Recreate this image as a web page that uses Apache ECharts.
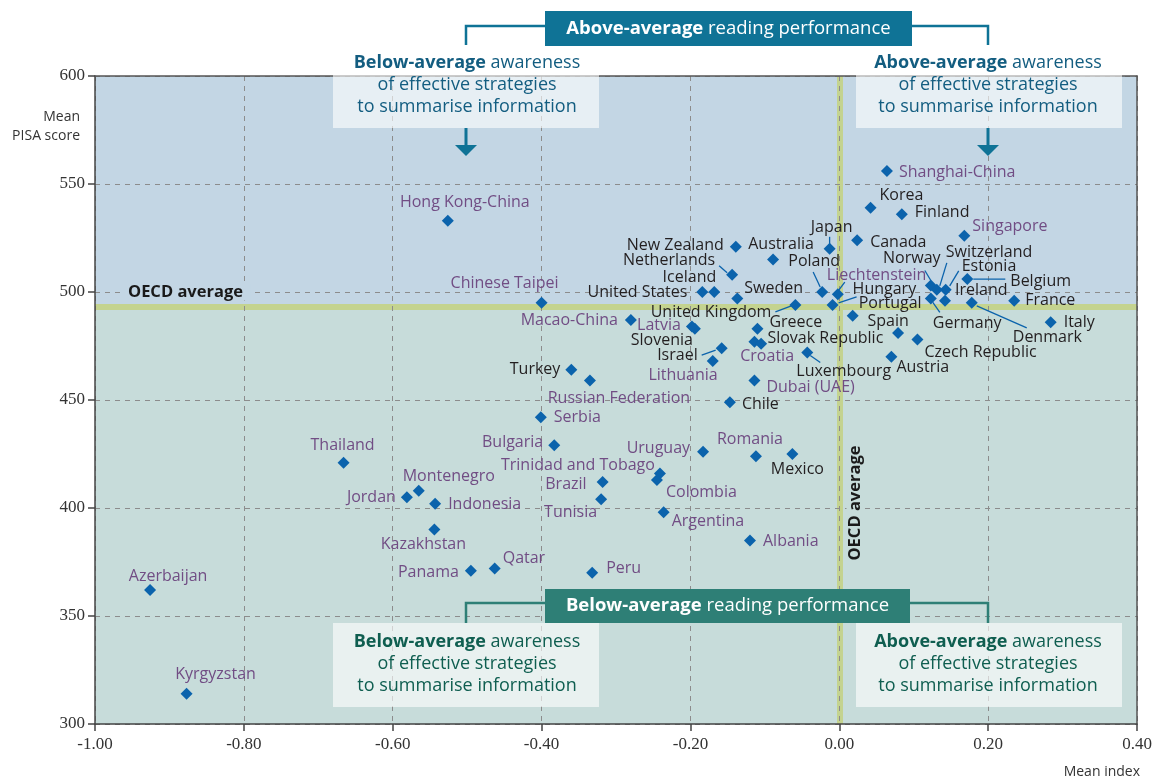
<!DOCTYPE html>
<html>
<head>
<meta charset="utf-8">
<title>Reading performance and awareness of summarising strategies</title>
<script src="https://cdn.jsdelivr.net/npm/echarts@6/dist/echarts.min.js"></script>
<style>
  html, body { margin: 0; padding: 0; background: #fff; }
  #myChart { width: 1157px; height: 780px; }
</style>
</head>
<body>
<div id="myChart"></div>
<script>
// OECD countries
var oecdNames = ['Korea', 'Finland', 'Canada', 'New Zealand', 'Japan', 'Australia', 'Netherlands', 'Belgium',
  'Norway', 'Estonia', 'Switzerland', 'Poland', 'Iceland', 'United States', 'Sweden', 'Germany', 'Ireland',
  'France', 'Denmark', 'United Kingdom', 'Hungary', 'Portugal', 'Italy', 'Slovenia', 'Greece', 'Spain',
  'Czech Republic', 'Slovak Republic', 'Israel', 'Luxembourg', 'Austria', 'Turkey', 'Chile', 'Mexico'];
var oecdIndex = [0.042, 0.084, 0.024, -0.139, -0.013, -0.089, -0.144, 0.172,
  0.123, 0.143, 0.131, -0.023, -0.168, -0.184, -0.137, 0.123, 0.142,
  0.235, 0.178, -0.059, -0.009, 0.018, 0.284, -0.194, -0.110, 0.079,
  0.105, -0.114, -0.158, -0.043, 0.070, -0.360, -0.147, -0.063];
var oecdScore = [539, 536, 524, 521, 520, 515, 508, 506,
  503, 501, 501, 500, 500, 500, 497, 497, 496,
  496, 495, 494, 494, 489, 486, 483, 483, 481,
  478, 477, 474, 472, 470, 464, 449, 425];

// partner countries and economies
var partnerNames = ['Shanghai-China', 'Hong Kong-China', 'Singapore', 'Liechtenstein', 'Chinese Taipei',
  'Macao-China', 'Latvia', 'Croatia', 'Lithuania', 'Dubai (UAE)', 'Russian Federation', 'Serbia', 'Bulgaria',
  'Uruguay', 'Romania', 'Thailand', 'Trinidad and Tobago', 'Colombia', 'Brazil', 'Montenegro', 'Jordan',
  'Tunisia', 'Indonesia', 'Argentina', 'Kazakhstan', 'Albania', 'Qatar', 'Panama', 'Peru', 'Azerbaijan',
  'Kyrgyzstan'];
var partnerIndex = [0.064, -0.526, 0.168, -0.002, -0.400,
  -0.280, -0.198, -0.105, -0.170, -0.114, -0.335, -0.401, -0.383,
  -0.183, -0.112, -0.666, -0.241, -0.245, -0.318, -0.565, -0.581,
  -0.320, -0.543, -0.236, -0.544, -0.120, -0.463, -0.495, -0.332, -0.926,
  -0.877];
var partnerScore = [556, 533, 526, 499, 495,
  487, 484, 476, 468, 459, 459, 442, 429,
  426, 424, 421, 416, 413, 412, 408, 405,
  404, 402, 398, 390, 385, 372, 371, 370, 362,
  314];

var oecdAvgIndex = 0.00;
var oecdAvgScore = 493;

// label anchor offsets from the marker centre: [dx, dy, align]
var labelPos = {
  'Shanghai-China': [12, 1, 'left'], 'Korea': [9, -12, 'left'], 'Finland': [13, -2, 'left'],
  'Hong Kong-China': [17, -18, 'center'], 'Singapore': [8, -9, 'left'], 'Canada': [13, 2, 'left'],
  'New Zealand': [-12, -1, 'right'], 'Japan': [2, -21, 'center'], 'Australia': [8, -15, 'center'],
  'Netherlands': [-17, -14, 'right'], 'Iceland': [2, -15, 'right'], 'United States': [-15, 0, 'right'],
  'Sweden': [7, -10, 'left'], 'Poland': [-8, -31, 'center'], 'Liechtenstein': [-11, -19, 'left'],
  'Hungary': [20, -16, 'left'], 'Portugal': [6, -12, 'left'], 'United Kingdom': [-24, 7, 'right'],
  'Spain': [-10, -12, 'center'], 'Norway': [-19, -27, 'center'], 'Switzerland': [9, -37, 'left'],
  'Estonia': [16, -23, 'left'], 'Belgium': [43, 2, 'left'], 'Ireland': [10, -10, 'left'],
  'Germany': [2, 25, 'left'], 'France': [11, 0, 'left'], 'Denmark': [41, 35, 'left'],
  'Italy': [13, 0, 'left'], 'Czech Republic': [7, 13, 'left'], 'Austria': [5, 11, 'left'],
  'Luxembourg': [-11, 19, 'left'], 'Greece': [12, -6, 'left'], 'Slovak Republic': [13, -3, 'left'],
  'Croatia': [6, 13, 'center'], 'Slovenia': [-2, 12, 'right'], 'Latvia': [-11, -1, 'right'],
  'Macao-China': [-13, 0, 'right'], 'Israel': [-24, 7, 'right'], 'Lithuania': [5, 14, 'right'],
  'Dubai (UAE)': [12, 7, 'left'], 'Chile': [12, 2, 'left'], 'Russian Federation': [29, 18, 'center'],
  'Turkey': [-11, 0, 'right'], 'Serbia': [13, 0, 'left'], 'Chinese Taipei': [-37, -19, 'center'],
  'Bulgaria': [-11, -3, 'right'], 'Uruguay': [-13, -3, 'right'], 'Romania': [-6, -17, 'center'],
  'Mexico': [5, 15, 'center'], 'Trinidad and Tobago': [-5, -8, 'right'], 'Colombia': [9, 13, 'left'],
  'Brazil': [-16, 2, 'right'], 'Tunisia': [-4, 13, 'right'], 'Argentina': [8, 9, 'left'],
  'Albania': [13, 1, 'left'], 'Peru': [14, -4, 'left'], 'Thailand': [-1, -17, 'center'],
  'Montenegro': [30, -14, 'center'], 'Jordan': [-11, 0, 'right'], 'Indonesia': [13, 1, 'left'],
  'Kazakhstan': [-11, 15, 'center'], 'Panama': [-12, 2, 'right'], 'Qatar': [8, -10, 'left'],
  'Azerbaijan': [18, -14, 'center'], 'Kyrgyzstan': [29, -19, 'center']
};

// leader lines, offsets from the marker centre: [x1, y1, x2, y2]
var leaderPos = {
  'Netherlands': [-13, -9, -5, -2], 'Poland': [-9, -20, -2, -5], 'Liechtenstein': [7, -12, 1, -4],
  'Hungary': [24, -8, 6, -2], 'United Kingdom': [-20, 7, -4, 1], 'Norway': [-6, -15, 0, -5],
  'Switzerland': [10, -27, 3, -4], 'Estonia': [13, -19, 4, -4], 'Belgium': [6, 0, 38, 0],
  'Germany': [9, 14, 2, 4], 'Denmark': [5, 3, 55, 25], 'Luxembourg': [3, 3, 13, 10],
  'Israel': [-20, 7, -6, 2], 'Japan': [0, -12, 0, -4]
};

var SYM = 12;
var BLUE = '#0b63ac';
var SANS = '"Open Sans", "Noto Sans", sans-serif';

function makeData(names, idx, score) {
  return names.map(function(n, i){
    var p = labelPos[n] || [8, 0, 'left'];
    return {
      name: n,
      value: [idx[i], score[i]],
      label: {position: [p[0] + SYM / 2, p[1] + SYM / 2], align: p[2]}
    };
  });
}

function labelStyle(color) {
  return {
    show: true, formatter: '{b}', color: color,
    fontFamily: SANS, fontSize: 16, verticalAlign: 'middle'
  };
}

var myChart = echarts.init(document.getElementById('myChart'));

var option = {
  animation: false,
  grid: {left: 95, right: 20, top: 76, bottom: 56},
  xAxis: [{
    type: 'value', min: -1, max: 0.4, interval: 0.2,
    axisLine: {show: true, onZero: false, lineStyle: {color: '#444', width: 1.5}},
    axisTick: {show: true, length: 7, lineStyle: {color: '#444', width: 1.5}},
    axisLabel: {
      formatter: function(v){ return v.toFixed(2); },
      color: '#333', fontFamily: '"Liberation Serif", serif', fontSize: 17, margin: 12,
      showMinLabel: true, showMaxLabel: true
    },
    splitLine: {show: true, lineStyle: {color: '#8c8c8c', width: 1, type: [5, 5]}}
  }, {
    type: 'value', position: 'top', min: -1, max: 0.4,
    axisLine: {show: true, onZero: false, lineStyle: {color: '#555', width: 1.5}},
    axisTick: {show: false}, axisLabel: {show: false}, splitLine: {show: false}
  }],
  yAxis: [{
    type: 'value', min: 300, max: 600, interval: 50,
    axisLine: {show: true, onZero: false, lineStyle: {color: '#444', width: 1.5}},
    axisTick: {show: true, length: 7, lineStyle: {color: '#444', width: 1.5}},
    axisLabel: {color: '#333', fontFamily: '"Liberation Serif", serif', fontSize: 17, margin: 10},
    splitLine: {show: true, lineStyle: {color: '#8c8c8c', width: 1, type: [5, 5]}}
  }, {
    type: 'value', position: 'right', min: 300, max: 600,
    axisLine: {show: true, onZero: false, lineStyle: {color: '#555', width: 1.5}},
    axisTick: {show: false}, axisLabel: {show: false}, splitLine: {show: false}
  }],
  series: [{
    name: 'OECD',
    type: 'scatter',
    symbol: 'diamond', symbolSize: SYM,
    itemStyle: {color: BLUE, opacity: 1},
    label: labelStyle('#231f20'),
    data: makeData(oecdNames, oecdIndex, oecdScore),
    markArea: {
      silent: true, z: -2,
      itemStyle: {opacity: 1},
      data: [
        [{yAxis: oecdAvgScore, itemStyle: {color: '#c3d6e4'}}, {yAxis: 600}],
        [{yAxis: 300, itemStyle: {color: '#c7dcda'}}, {yAxis: oecdAvgScore}]
      ]
    },
    markLine: {
      silent: true, z: -1, symbol: 'none',
      lineStyle: {color: '#c4d38f', width: 6, type: 'solid', opacity: 1},
      label: {show: false},
      data: [{yAxis: oecdAvgScore}, {xAxis: oecdAvgIndex}]
    }
  }, {
    name: 'Partners',
    type: 'scatter',
    symbol: 'diamond', symbolSize: SYM,
    itemStyle: {color: BLUE, opacity: 1},
    label: labelStyle('#714d84'),
    data: makeData(partnerNames, partnerIndex, partnerScore)
  }]
};

myChart.setOption(option);

function boxLines(cx, y0, boldWord, color) {
  var lines = ['{b|' + boldWord + '} awareness', 'of effective strategies', 'to summarise information'];
  return lines.map(function(t, i){
    return {
      type: 'text', x: cx, y: y0 + i * 22, z: 6, silent: true,
      style: {
        text: t, fill: color, font: '18px ' + SANS, align: 'center', verticalAlign: 'middle',
        rich: {b: {fontWeight: 'bold', fontSize: 18, fontFamily: SANS, fill: color}}
      }
    };
  });
}

function banner(x, y, w, h, color, boldWord) {
  return [{
    type: 'rect', shape: {x: x, y: y, width: w, height: h}, z: 6, silent: true,
    style: {fill: color}
  }, {
    type: 'text', x: x + w / 2, y: y + h / 2, z: 7, silent: true,
    style: {
      text: '{b|' + boldWord + '} reading performance', fill: '#fff',
      font: '18.5px ' + SANS, align: 'center', verticalAlign: 'middle',
      rich: {b: {fontWeight: 'bold', fontSize: 18.5, fontFamily: SANS, fill: '#fff'}}
    }
  }];
}

function arrow(cx, color) {
  return [{
    type: 'line', shape: {x1: cx, y1: 128, x2: cx, y2: 147}, z: 6, silent: true,
    style: {stroke: color, lineWidth: 3}
  }, {
    type: 'polygon', shape: {points: [[cx - 11, 145], [cx + 11, 145], [cx, 156]]}, z: 6, silent: true,
    style: {fill: color}
  }];
}

var TOP = '#0f7396', TOPTXT = '#135d80';
var BOT = '#2e7f76', BOTTXT = '#0f5e50';

var graphics = [];
// top part: above-average reading performance
graphics.push({type: 'polyline', shape: {points: [[466, 45], [466, 26], [545, 26]]}, z: 6, silent: true,
  style: {stroke: TOP, lineWidth: 2.5, fill: null}});
graphics.push({type: 'polyline', shape: {points: [[912, 26], [988, 26], [988, 45]]}, z: 6, silent: true,
  style: {stroke: TOP, lineWidth: 2.5, fill: null}});
graphics.push({type: 'rect', shape: {x: 333, y: 50, width: 266, height: 78}, z: 5, silent: true,
  style: {fill: 'rgba(255,255,255,0.6)'}});
graphics.push({type: 'rect', shape: {x: 856, y: 50, width: 266, height: 78}, z: 5, silent: true,
  style: {fill: 'rgba(255,255,255,0.6)'}});
graphics = graphics.concat(banner(545, 11, 367, 35, TOP, 'Above-average'));
graphics = graphics.concat(boxLines(467, 63, 'Below-average', TOPTXT));
graphics = graphics.concat(boxLines(988, 63, 'Above-average', TOPTXT));
graphics = graphics.concat(arrow(466, TOP), arrow(988, TOP));

// bottom part: below-average reading performance
graphics.push({type: 'rect', shape: {x: 333, y: 623, width: 266, height: 84}, z: 5, silent: true,
  style: {fill: 'rgba(255,255,255,0.6)'}});
graphics.push({type: 'rect', shape: {x: 856, y: 623, width: 266, height: 84}, z: 5, silent: true,
  style: {fill: 'rgba(255,255,255,0.6)'}});
graphics.push({type: 'polyline', shape: {points: [[466, 623], [466, 603], [545, 603]]}, z: 6, silent: true,
  style: {stroke: BOT, lineWidth: 2.5, fill: null}});
graphics.push({type: 'polyline', shape: {points: [[910, 603], [988, 603], [988, 623]]}, z: 6, silent: true,
  style: {stroke: BOT, lineWidth: 2.5, fill: null}});
graphics = graphics.concat(banner(545, 589, 365, 34, BOT, 'Below-average'));
graphics = graphics.concat(boxLines(467, 642, 'Below-average', BOTTXT));
graphics = graphics.concat(boxLines(988, 642, 'Above-average', BOTTXT));

// OECD average labels
graphics.push({type: 'text', x: 121, y: 292, z: 4, silent: true,
  style: {text: 'OECD average', font: 'bold 16.5px ' + SANS, fill: '#1a1a1a', align: 'left', verticalAlign: 'middle',
    backgroundColor: '#c3d6e4', padding: [0, 7]}});
graphics.push({type: 'text', x: 855, y: 503, rotation: Math.PI / 2, z: 4, silent: true,
  style: {text: 'OECD average', font: 'bold 16.5px ' + SANS, fill: '#1a1a1a', align: 'center', verticalAlign: 'middle',
    backgroundColor: '#c7dcda', padding: [0, 6]}});

// axis titles
graphics.push({type: 'text', x: 80, y: 117, silent: true,
  style: {text: 'Mean', font: '14px ' + SANS, fill: '#333', align: 'right', verticalAlign: 'middle'}});
graphics.push({type: 'text', x: 80, y: 136, silent: true,
  style: {text: 'PISA score', font: '14px ' + SANS, fill: '#333', align: 'right', verticalAlign: 'middle'}});
graphics.push({type: 'text', x: 1140, y: 772, silent: true,
  style: {text: 'Mean index', font: '14px ' + SANS, fill: '#333', align: 'right', verticalAlign: 'middle'}});

// leader lines from labels to markers
[[oecdNames, oecdIndex, oecdScore, 0], [partnerNames, partnerIndex, partnerScore, 1]].forEach(function(set){
  set[0].forEach(function(n, i){
    var o = leaderPos[n];
    if (!o) return;
    var p = myChart.convertToPixel({seriesIndex: set[3]}, [set[1][i], set[2][i]]);
    graphics.push({type: 'line', z: 3, silent: true,
      shape: {x1: p[0] + o[0], y1: p[1] + o[1], x2: p[0] + o[2], y2: p[1] + o[3]},
      style: {stroke: BLUE, lineWidth: 1.3}});
  });
});

myChart.setOption({graphic: graphics});
</script>
</body>
</html>
